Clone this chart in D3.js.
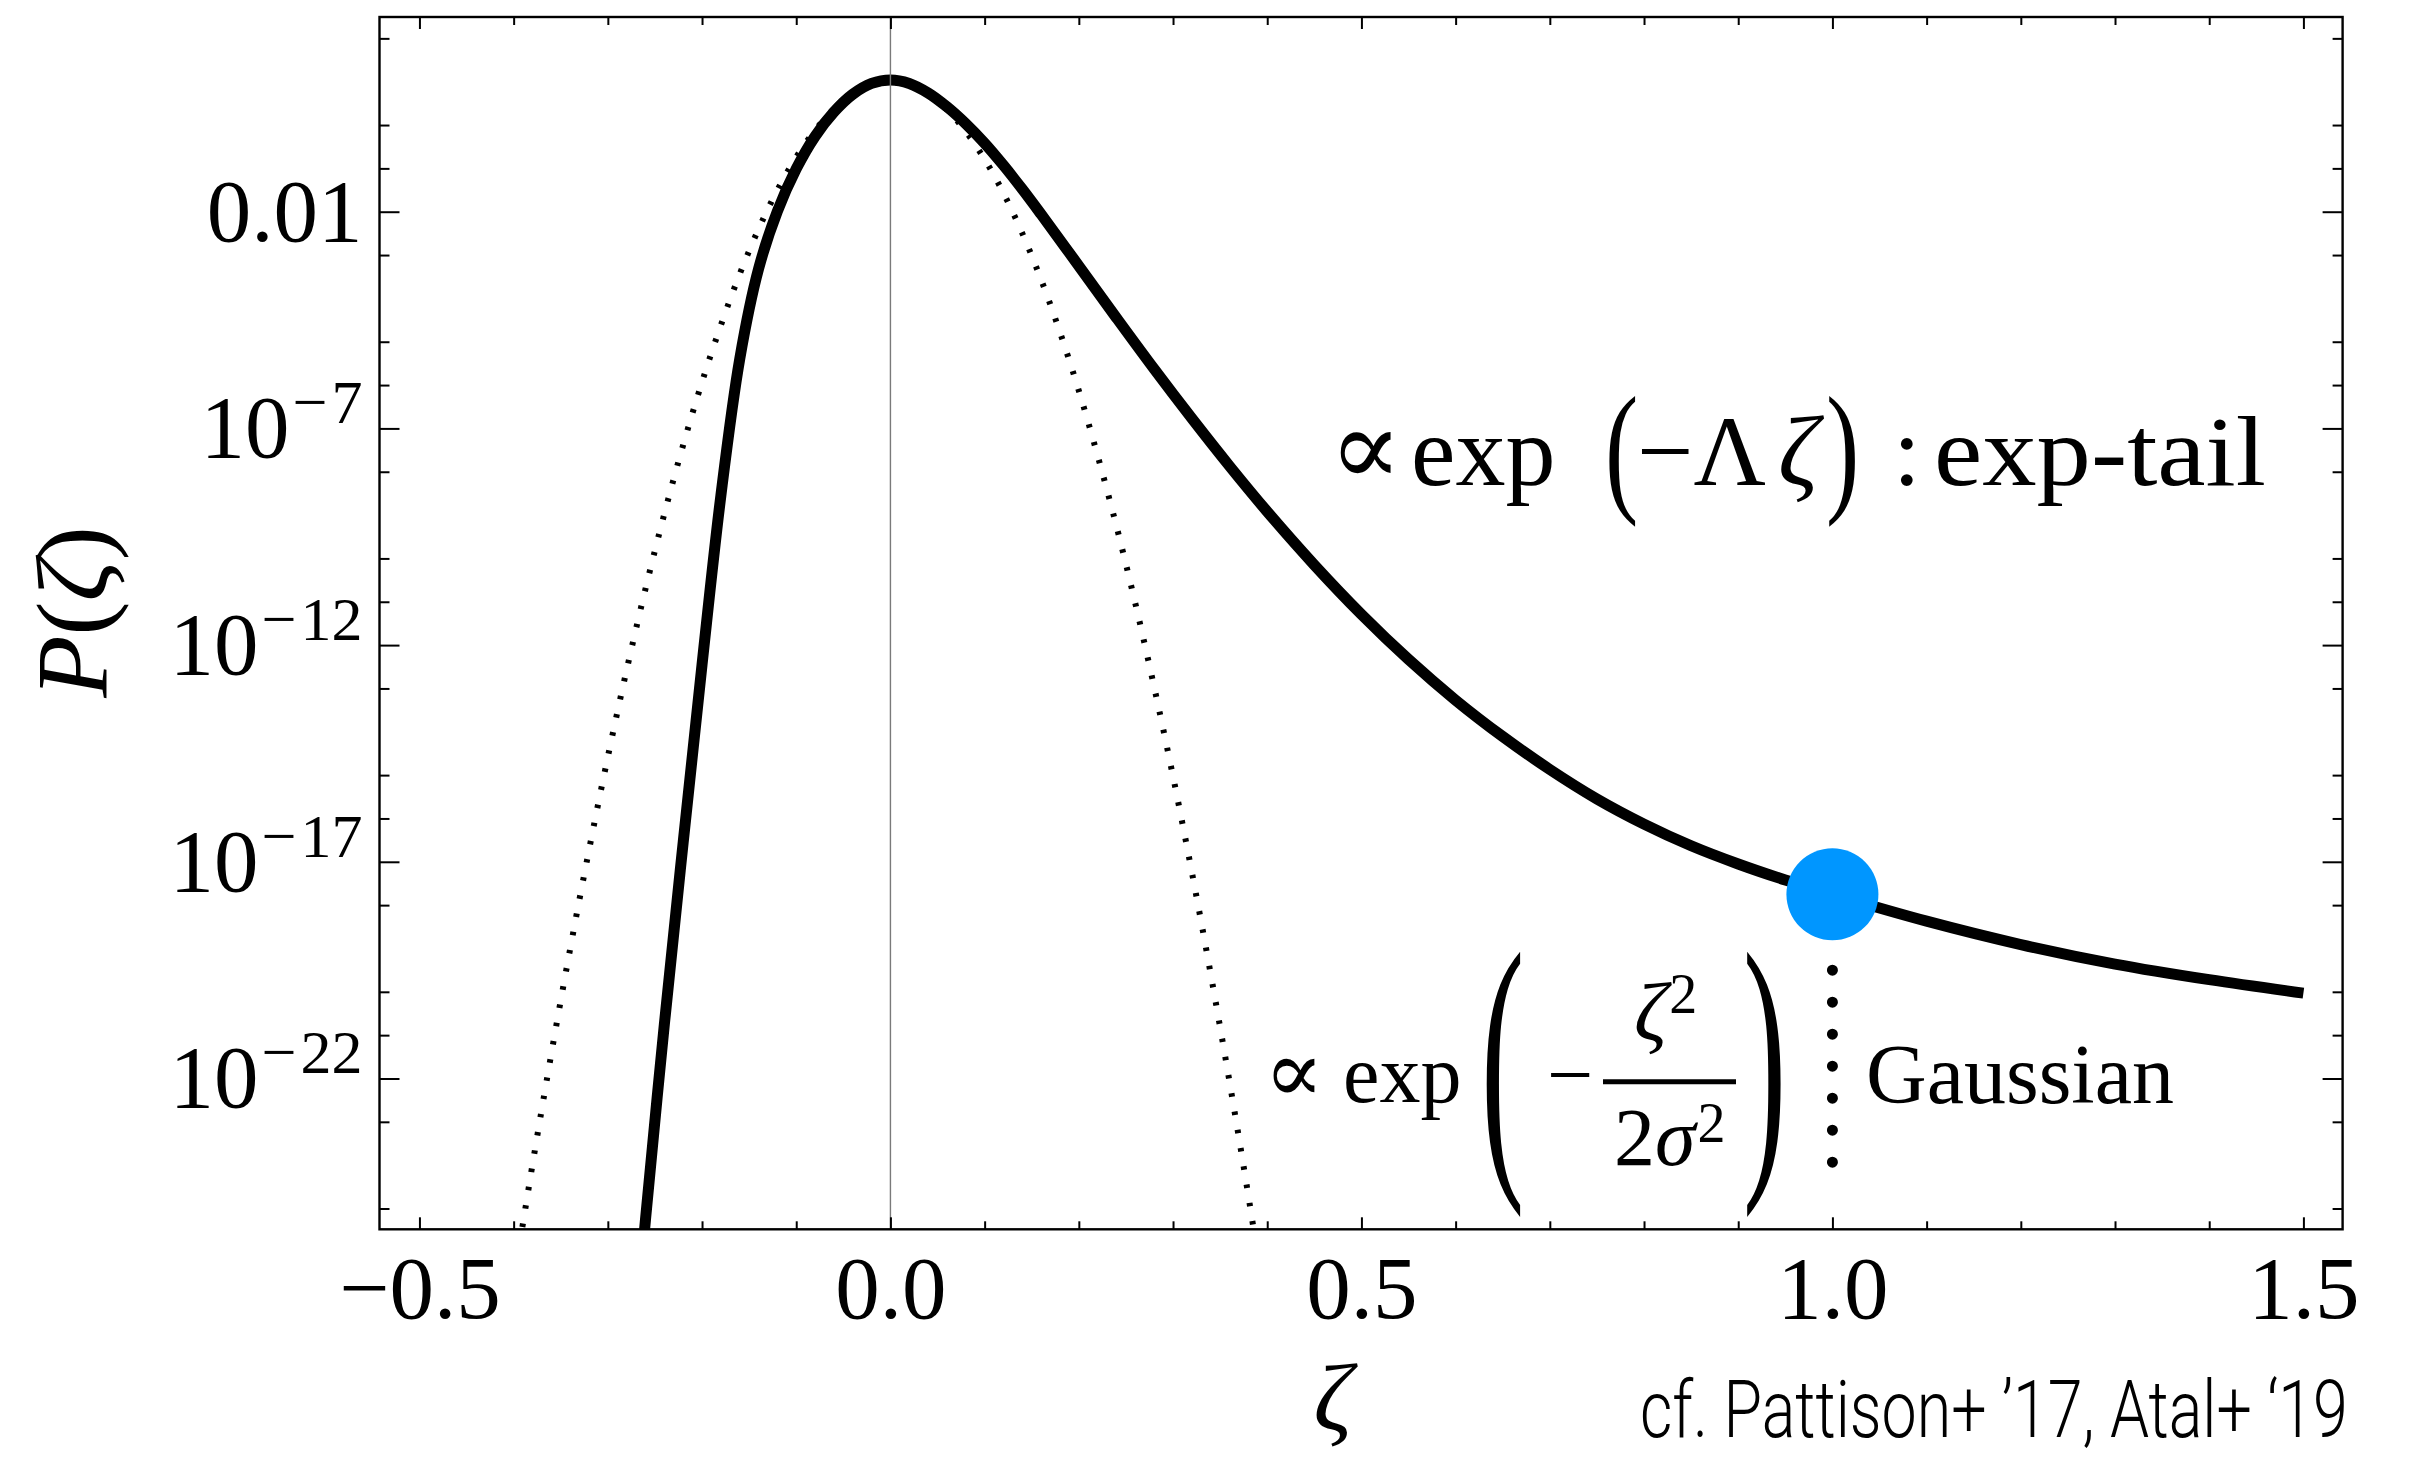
<!DOCTYPE html>
<html>
<head>
<meta charset="utf-8">
<script src="https://cdn.jsdelivr.net/npm/d3@7"></script>
<style>
  body { margin: 0; background: #fff; }
  svg { display: block; }
  text { font-family: "Liberation Serif", "DejaVu Serif", serif; fill: #000; }
</style>
</head>
<body>
<div id="chart"></div>
<script>

// full P(zeta) (thick line), log10 values
var solidZeta = [-0.27, -0.26, -0.24, -0.22, -0.20, -0.18, -0.16, -0.14, -0.12, -0.10,
  -0.08, -0.06, -0.04, -0.02, 0.00, 0.02, 0.04, 0.06, 0.08, 0.10,
  0.12, 0.14, 0.16, 0.20, 0.24, 0.28, 0.32, 0.36, 0.40, 0.45,
  0.50, 0.55, 0.60, 0.65, 0.70, 0.75, 0.80, 0.85, 0.90, 0.95,
  1.00, 1.10, 1.20, 1.30, 1.40, 1.50];
var solidLogP = [-27.65, -25.25, -20.75, -16.55, -12.45, -8.55, -5.40, -3.32, -1.99, -1.01,
  -0.26, 0.30, 0.71, 0.96, 1.04, 0.96, 0.74, 0.42, 0.03, -0.42,
  -0.93, -1.48, -2.06, -3.25, -4.45, -5.63, -6.77, -7.87, -8.92, -10.15,
  -11.29, -12.33, -13.27, -14.11, -14.87, -15.55, -16.13, -16.63, -17.05, -17.42,
  -17.75, -18.37, -18.91, -19.36, -19.72, -20.03];

// gaussian (dotted line)
var gaussZeta = [-0.40, -0.38, -0.36, -0.34, -0.32, -0.30, -0.28, -0.26, -0.24, -0.22,
  -0.20, -0.18, -0.16, -0.14, -0.12, -0.10, -0.08, -0.06, -0.04, -0.02,
  0.00, 0.02, 0.04, 0.06, 0.08, 0.10, 0.12, 0.14, 0.16, 0.18,
  0.20, 0.22, 0.24, 0.26, 0.28, 0.30, 0.32, 0.34, 0.36, 0.38, 0.40];
var gaussLogP = [-26.69, -23.99, -21.43, -19.01, -16.73, -14.58, -12.57, -10.70, -8.97, -7.38,
  -5.93, -4.62, -3.44, -2.40, -1.50, -0.74, -0.12, 0.37, 0.71, 0.92,
  0.99, 0.92, 0.71, 0.35, -0.15, -0.79, -1.57, -2.50, -3.57, -4.78,
  -6.13, -7.63, -9.26, -11.04, -12.97, -15.03, -17.24, -19.59, -22.08, -24.71, -27.49];

// blue marker and the dotted drop below it
var markerZeta = [1.0];
var markerLogP = [-17.75];
var dropLogP = [-19.5, -23.96];

// ticks
var xTickValues = [-0.5, 0.0, 0.5, 1.0, 1.5];
var xMinorValues = [-0.4, -0.3, -0.2, -0.1, 0.1, 0.2, 0.3, 0.4, 0.6, 0.7, 0.8, 0.9, 1.1, 1.2, 1.3, 1.4];
var yTickExp = [-2, -7, -12, -17, -22];
var yMinorExp = [2, 0, -1, -3, -5, -6, -8, -10, -11, -13, -15, -16, -18, -20, -21, -23, -25];

var svgWidth = 2422;
var svgHeight = 1457;

var plot = { left: 379.5, right: 2342.6, top: 17, bottom: 1229.3 };

var svg = d3.select("#chart")
  .append("svg")
  .attr("width", svgWidth)
  .attr("height", svgHeight);

svg.append("rect").attr("width", svgWidth).attr("height", svgHeight).attr("fill", "#fff");

var x = d3.scaleLinear()
  .domain([-0.5424, 1.5416])
  .range([plot.left, plot.right]);

var y = d3.scaleLog()
  .domain([Math.pow(10, -25.48), Math.pow(10, 2.493)])
  .range([plot.bottom, plot.top]);

var pow10 = function(e) { return Math.pow(10, e); };

svg.append("clipPath").attr("id", "clip")
  .append("rect")
  .attr("x", plot.left).attr("y", plot.top)
  .attr("width", plot.right - plot.left).attr("height", plot.bottom - plot.top);

// curves
var gaussData = gaussZeta.map(function(z, i) { return { z: z, p: pow10(gaussLogP[i]) }; });
var solidData = solidZeta.map(function(z, i) { return { z: z, p: pow10(solidLogP[i]) }; });

var line = d3.line()
  .x(function(d) { return x(d.z); })
  .y(function(d) { return y(d.p); })
  .curve(d3.curveCatmullRom.alpha(0.5));

var curves = svg.append("g").attr("clip-path", "url(#clip)");

curves.append("path")
  .datum(gaussData)
  .attr("d", line)
  .attr("fill", "none")
  .attr("stroke", "#000")
  .attr("stroke-width", 6)
  .attr("stroke-dasharray", "3.5,15");

curves.append("path")
  .datum(solidData)
  .attr("d", line)
  .attr("fill", "none")
  .attr("stroke", "#000")
  .attr("stroke-width", 11);

// zero line
svg.append("line")
  .attr("x1", x(0)).attr("x2", x(0))
  .attr("y1", plot.top).attr("y2", plot.bottom)
  .attr("stroke", "#7a7a7a")
  .attr("stroke-width", 1.4);

// axes, ticks inward on all four sides
function styleAxis(g) {
  g.select(".domain").remove();
  g.selectAll(".tick line").attr("stroke-width", 2);
  g.attr("font-size", 89).attr("font-family", "Liberation Serif, DejaVu Serif, serif");
}

svg.append("g")
  .attr("transform", "translate(0," + plot.bottom + ")")
  .call(d3.axisBottom(x).tickValues(xTickValues).tickSize(-12).tickPadding(26)
    .tickFormat(d3.format(".1f")))
  .call(styleAxis);

svg.append("g")
  .attr("transform", "translate(0," + plot.bottom + ")")
  .call(d3.axisBottom(x).tickValues(xMinorValues).tickSize(-8).tickFormat(""))
  .call(styleAxis);

svg.append("g")
  .attr("transform", "translate(0," + plot.top + ")")
  .call(d3.axisTop(x).tickValues(xTickValues).tickSize(-12).tickFormat(""))
  .call(styleAxis);

svg.append("g")
  .attr("transform", "translate(0," + plot.top + ")")
  .call(d3.axisTop(x).tickValues(xMinorValues).tickSize(-8).tickFormat(""))
  .call(styleAxis);

var yLeft = svg.append("g")
  .attr("transform", "translate(" + plot.left + ",0)")
  .call(d3.axisLeft(y).tickValues(yTickExp.map(pow10)).tickSize(-20).tickPadding(17)
    .tickFormat(function() { return ""; }))
  .call(styleAxis);

yLeft.selectAll(".tick text").each(function(d) {
  var t = d3.select(this);
  var e = Math.round(Math.log10(d));
  if (e === -2) {
    t.text("0.01");
  } else {
    t.append("tspan").text("10");
    t.append("tspan").attr("dy", -34).attr("dx", 3).attr("font-size", 62).text("\u2212");
    t.append("tspan").attr("dx", 4).attr("font-size", 62).text(String(-e));
  }
});

svg.append("g")
  .attr("transform", "translate(" + plot.left + ",0)")
  .call(d3.axisLeft(y).tickValues(yMinorExp.map(pow10)).tickSize(-10).tickFormat(""))
  .call(styleAxis);

svg.append("g")
  .attr("transform", "translate(" + plot.right + ",0)")
  .call(d3.axisRight(y).tickValues(yTickExp.map(pow10)).tickSize(-20).tickFormat(""))
  .call(styleAxis);

svg.append("g")
  .attr("transform", "translate(" + plot.right + ",0)")
  .call(d3.axisRight(y).tickValues(yMinorExp.map(pow10)).tickSize(-10).tickFormat(""))
  .call(styleAxis);

// frame
svg.append("rect")
  .attr("x", plot.left).attr("y", plot.top)
  .attr("width", plot.right - plot.left).attr("height", plot.bottom - plot.top)
  .attr("fill", "none")
  .attr("stroke", "#000")
  .attr("stroke-width", 2.4);

// dotted drop line + marker
svg.append("line")
  .attr("x1", x(markerZeta[0])).attr("x2", x(markerZeta[0]))
  .attr("y1", y(pow10(dropLogP[0]))).attr("y2", y(pow10(dropLogP[1])))
  .attr("stroke", "#000")
  .attr("stroke-width", 11)
  .attr("stroke-linecap", "round")
  .attr("stroke-dasharray", "0,32");

svg.selectAll(".marker")
  .data(markerZeta)
  .enter()
  .append("circle")
  .attr("class", "marker")
  .attr("cx", function(d) { return x(d); })
  .attr("cy", function(d, i) { return y(pow10(markerLogP[i])); })
  .attr("r", 46)
  .attr("fill", "#0096ff");

// axis labels
var ylab = svg.append("text")
  .attr("transform", "translate(107,612) rotate(-90)")
  .attr("text-anchor", "middle")
  .attr("font-size", 102);
ylab.append("tspan").attr("font-style", "italic").text("P");
ylab.append("tspan").text("(");
ylab.append("tspan").attr("font-style", "italic").text("\u03B6");
ylab.append("tspan").text(")");

svg.append("text")
  .attr("x", 1333).attr("y", 1430)
  .attr("text-anchor", "middle")
  .attr("font-size", 96)
  .attr("font-style", "italic")
  .text("\u03B6");

// reference note, squeezed to the width it has in the picture
var note = svg.append("text")
  .attr("font-size", 79)
  .attr("font-weight", 300)
  .style("font-family", "Roboto, 'Open Sans', sans-serif")
  .text("cf. Pattison+ \u201917, Atal+ \u201819");
var noteLen = note.node().getComputedTextLength();
note.attr("transform", "translate(1640,1437) scale(" + (708 / noteLen) + ",1)");

// helper for plain text pieces
function put(txt, px, py, size, italic, len) {
  var t = svg.append("text")
    .attr("x", px).attr("y", py)
    .attr("font-size", size)
    .attr("font-style", italic ? "italic" : null)
    .text(txt);
  if (len) t.attr("textLength", len).attr("lengthAdjust", "spacingAndGlyphs");
  return t;
}
function bigParen(txt, px, cy, size, sy) {
  return svg.append("text")
    .attr("transform", "translate(" + px + "," + (cy + 0.25 * size * sy) + ") scale(1," + sy + ")")
    .attr("font-size", size)
    .text(txt);
}
function propTo(px, py, size) {
  return svg.append("text")
    .attr("transform", "translate(" + px + "," + py + ") scale(1.08,1.08)")
    .attr("font-size", size)
    .text("\u221D");
}

// exp-tail annotation
propTo(1329, 485, 100);
put("exp", 1411, 485, 100);
bigParen("(", 1605, 460, 100, 1.45);
put("\u2212\u039B", 1637, 485, 100);
put("\u03B6", 1778, 485, 100, true);
bigParen(")", 1826, 460, 100, 1.45);
put(":", 1893, 485, 100);
put("exp-tail", 1934, 485, 100, false, 332);

// gaussian annotation
propTo(1264, 1102, 82);
put("exp", 1343, 1102, 82);
bigParen("(", 1481, 1081.5, 130, 2.25);
put("\u2212", 1547, 1102, 82);
svg.append("line")
  .attr("x1", 1603).attr("x2", 1736)
  .attr("y1", 1081.7).attr("y2", 1081.7)
  .attr("stroke", "#000").attr("stroke-width", 5);

var num = svg.append("text").attr("x", 1634).attr("y", 1040).attr("font-size", 82);
num.append("tspan").attr("font-style", "italic").text("\u03B6");
num.append("tspan").attr("dy", -27).attr("dx", 2).attr("font-size", 56).text("2");

var den = svg.append("text").attr("x", 1614).attr("y", 1165).attr("font-size", 82);
den.append("tspan").text("2");
den.append("tspan").attr("font-style", "italic").text("\u03C3");
den.append("tspan").attr("dy", -23).attr("dx", 2).attr("font-size", 56).text("2");

bigParen(")", 1743, 1081.5, 130, 2.25);
put("Gaussian", 1866, 1103, 84);

</script>
</body>
</html>
